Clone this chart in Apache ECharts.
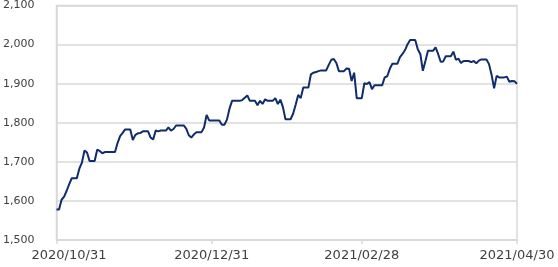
<!DOCTYPE html>
<html>
<head>
<meta charset="utf-8">
<script src="https://cdn.jsdelivr.net/npm/echarts@6/dist/echarts.min.js"></script>
<style>
html,body{margin:0;padding:0;background:#fff;}
#c{width:558px;height:267px;}
</style>
</head>
<body>
<div id="c"></div>
<script>
// Daily values from 2020/10/31 to 2021/04/30 (weekends carry Friday's value)
var startDate = '2020-10-31';
var dayCount = 182;
var values = [
1578,1578,1603,1611,1626,1643,1658,1658,1658,
1683,1698,1729,1724,1702,1702,1702,
1731,1728,1722,1725,1725,1725,1725,
1725,1748,1766,1774,1783,1783,1783,
1756,1769,1773,1774,1778,1778,1778,
1762,1757,1780,1778,1780,1780,1780,
1788,1780,1784,1793,1793,1793,1793,
1785,1768,1762,1770,1776,1776,1776,
1788,1820,1806,1806,1806,1806,1806,
1795,1795,1808,1836,1856,1856,1856,
1856,1858,1864,1870,1856,1856,1856,
1845,1856,1848,1860,1856,1856,1856,
1863,1848,1859,1840,1809,1809,1809,
1823,1846,1871,1863,1890,1890,1890,
1924,1928,1930,1932,1934,1934,1934,
1948,1961,1963,1953,1932,1932,1932,
1939,1938,1907,1928,1863,1863,1863,
1901,1899,1904,1886,1896,1896,1896,
1896,1916,1919,1938,1951,1951,1951,
1968,1976,1986,2001,2012,2012,2012,
1988,1976,1933,1958,1984,1984,1984,
1993,1976,1956,1957,1970,1970,1970,
1982,1961,1964,1953,1958,1958,1958,
1955,1958,1952,1959,1962,1962,1962,
1950,1923,1888,1920,1916,1916,1916,
1918,1905,1907,1906,1900
];
var tickLabels = ['2020/10/31','2020/12/31','2021/02/28','2021/04/30'];
var yMin = 1500, yMax = 2100, yStep = 100;

function fmt(d){
  var m = d.getUTCMonth()+1, dd = d.getUTCDate();
  return d.getUTCFullYear()+'/'+(m<10?'0':'')+m+'/'+(dd<10?'0':'')+dd;
}
var categories = [];
var t0 = Date.parse(startDate+'T00:00:00Z');
for (var i=0;i<dayCount;i++){ categories.push(fmt(new Date(t0+i*86400000))); }

function isTick(idx){ return tickLabels.indexOf(categories[idx]) >= 0; }

var chart = echarts.init(document.getElementById('c'), null, {renderer:'canvas'});
chart.setOption({
  animation:false,
  grid:{left:54,right:41,top:4,bottom:27,show:true,borderColor:'#d9d9d9',borderWidth:1.5,backgroundColor:'transparent',containLabel:false},
  xAxis:{
    type:'category',
    data:categories,
    boundaryGap:false,
    axisLine:{show:true,lineStyle:{color:'#d9d9d9',width:1.5}},
    axisTick:{show:true,length:4,interval:function(idx){return isTick(idx);},lineStyle:{color:'#d9d9d9',width:1.5}},
    axisLabel:{show:true,interval:function(idx){return isTick(idx);},align:'center',color:'#404040',fontFamily:'DejaVu Sans',fontSize:13,margin:9,showMinLabel:true,showMaxLabel:true,hideOverlap:false,
      formatter:function(v, idx){ return idx === 0 ? '{p|' + v + '}' : v; },
      rich:{p:{padding:[0,0,0,25],fontFamily:'DejaVu Sans',fontSize:13,color:'#404040'}}
    },
    splitLine:{show:false}
  },
  yAxis:{
    type:'value',
    min:yMin,max:yMax,interval:yStep,
    axisLine:{show:true,lineStyle:{color:'#d9d9d9',width:1.5}},
    axisTick:{show:false},
    axisLabel:{color:'#404040',fontFamily:'DejaVu Sans',fontSize:11,margin:22,
      formatter:function(v){return v.toLocaleString('en-US');}},
    splitLine:{show:true,lineStyle:{color:'#d9d9d9',width:1.5}}
  },
  series:[{
    type:'line',
    data:values,
    showSymbol:false,
    symbol:'none',
    lineStyle:{color:'#0f2c6b',width:2},
    itemStyle:{color:'#0f2c6b'}
  }]
});
</script>
</body>
</html>
